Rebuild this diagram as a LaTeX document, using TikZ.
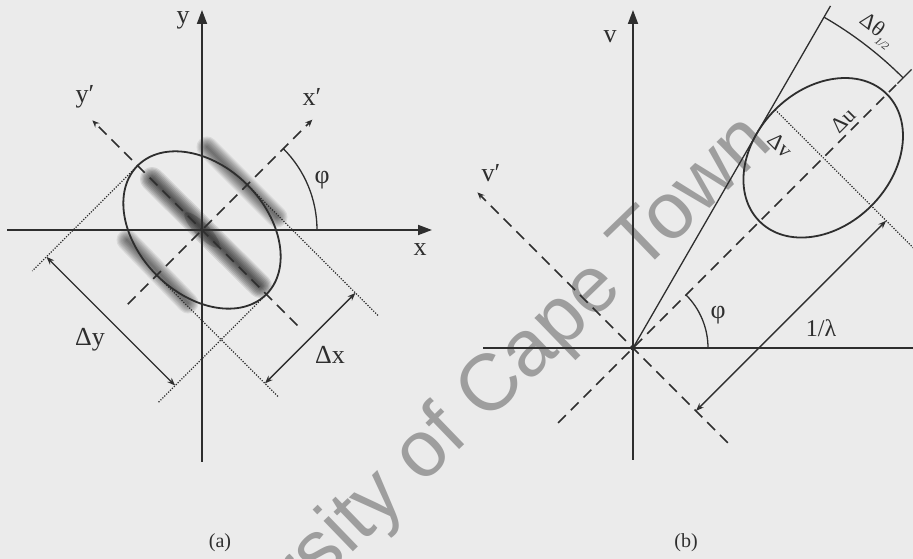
\documentclass[tikz,border=0pt]{standalone}
\usepackage{fontspec}
\setmainfont{Liberation Serif}
\newfontfamily\wmfont{Liberation Sans}
\usetikzlibrary{arrows.meta,calc}
\definecolor{ink}{HTML}{2E2E2E}
\definecolor{paper}{HTML}{EBEBEB}
\definecolor{wmgray}{HTML}{9E9E9E}
% blurred stripe: from #1 to #2, core width #3, layer opacity #4
\newcommand\gstripe[4]{%
  \foreach \k in {1,...,9}{%
    \draw[black,draw opacity=#4,line cap=round,line width={#3*\k/9*1pt}] #1 -- #2;
  }}
\begin{document}
\begin{tikzpicture}[x=1pt,y=1pt,
  ax/.style={line width=1.8pt,draw=ink},
  thinline/.style={line width=1.3pt,draw=ink},
  dsh/.style={line width=1.5pt,draw=ink,dash pattern=on 11pt off 7pt},
  dotln/.style={line width=1.2pt,draw=ink,dash pattern=on 1.2pt off 1.5pt},
  bigtip/.style={-{Triangle[length=14pt,width=10pt]}},
  smalltip/.style={-{Stealth[length=7pt,width=6pt]}},
  dimarrow/.style={thinline,{Stealth[length=8pt,width=6pt]}-{Stealth[length=8pt,width=6pt]}},
  lbl/.style={font=\fontsize{26}{30}\selectfont,text=ink,inner sep=0pt},
  smlbl/.style={font=\fontsize{22}{26}\selectfont,text=ink,inner sep=0pt},
  captxt/.style={font=\fontsize{20}{24}\selectfont,text=ink,inner sep=0pt}]
\useasboundingbox (0,0) rectangle (913,559);
\fill[paper] (0,0) rectangle (913,559);
% watermark
\begin{scope}
\clip (0,0) rectangle (913,559);
\node[font=\wmfont\fontsize{80}{86}\selectfont,text=wmgray,inner sep=0pt,anchor=base east,rotate=44] (wmark) at (775,414) {University of Cape Town};
\end{scope}
% ---------------- panel (a) ----------------
\coordinate (Oa) at (202,329);
\coordinate (xl) at (7,329);
\coordinate (xr) at (432,329);
\coordinate (yb) at (202,97);
\coordinate (yt) at (202,549);
% Gabor stripes
\coordinate (sc1) at (152,380);
\coordinate (sc2) at (260,273);
\coordinate (su1) at (207,412);
\coordinate (su2) at (277,342);
\coordinate (sl1) at (127,319);
\coordinate (sl2) at (188,256);
\gstripe{(sc1)}{(sc2)}{24}{0.10}
\gstripe{(su1)}{(su2)}{21}{0.075}
\gstripe{(sl1)}{(sl2)}{21}{0.075}
\fill[black,fill opacity=0.18,rotate around={-45:(Oa)}] (Oa) ellipse [x radius=24pt, y radius=7pt];
% axes
\draw[ax,bigtip] (xl) -- (xr);
\draw[ax,bigtip] (yb) -- (yt);
\coordinate (xps) at ($(Oa)+(225:105)$);
\coordinate (xpe) at ($(Oa)+(45:156)$);
\coordinate (yps) at ($(Oa)+(-45:135)$);
\coordinate (ype) at ($(Oa)+(135:155)$);
\draw[dsh,smalltip] (xps) -- (xpe);
\draw[dsh,smalltip] (yps) -- (ype);
% ellipse
\draw[ax,rotate around={45:(Oa)}] (Oa) ellipse [x radius=64pt, y radius=91pt];
% dotted tangents
\coordinate (P1) at ($(Oa)+(135:91)$);
\coordinate (P1e) at ($(P1)+(225:149)$);
\coordinate (P2) at ($(Oa)+(-45:91)$);
\coordinate (P2e) at ($(P2)+(225:153)$);
\coordinate (Q1) at ($(Oa)+(45:64)$);
\coordinate (Q1e) at ($(Q1)+(-45:186)$);
\coordinate (Q2) at ($(Oa)+(225:64)$);
\coordinate (Q2e) at ($(Q2)+(-45:172)$);
\draw[dotln] (P1) -- (P1e);
\draw[dotln] (P2) -- (P2e);
\draw[dotln] (Q1) -- (Q1e);
\draw[dotln] (Q2) -- (Q2e);
% dimension arrows
\coordinate (dyA) at ($(P1)+(225:129)$);
\coordinate (dyB) at ($(P2)+(225:129)$);
\coordinate (dxA) at ($(Q1)+(-45:153)$);
\coordinate (dxB) at ($(Q2)+(-45:153)$);
\draw[dimarrow] (dyA) -- (dyB);
\draw[dimarrow] (dxB) -- (dxA);
% phi arc
\draw[thinline] ($(Oa)+(0:115)$) arc[start angle=0,end angle=45,radius=115pt];
% labels
\node[lbl] (lx) at (420,309) {x};
\node[lbl] (ly) at (183,539) {y};
\node[lbl] (lxp) at (312,462) {x′};
\node[lbl] (lyp) at (85,462) {y′};
\node[lbl] (lphia) at (322,379) {φ};
\node[lbl] (ldy) at (90,219) {Δy};
\node[lbl] (ldx) at (330,204) {Δx};
\node[captxt] (capa) at (220,16) {(a)};
% ---------------- panel (b) ----------------
\coordinate (Ob) at (633,211);
\coordinate (ul) at (483,211);
\coordinate (ur) at (915,211);
\coordinate (vb) at (633,99);
\coordinate (vt) at (633,549);
\draw[ax] (ul) -- (ur);
\draw[ax,bigtip] (vb) -- (vt);
\coordinate (vps) at ($(Ob)+(-45:134)$);
\coordinate (vpe) at ($(Ob)+(135:220)$);
\draw[dsh,smalltip] (vps) -- (vpe);
\coordinate (ups) at ($(Ob)+(225:106)$);
\coordinate (upe) at ($(Ob)+(45:372)$);
\draw[dsh] (ups) -- (upe);
\coordinate (tg) at ($(Ob)+(60:395)$);
\draw[thinline] (Ob) -- (tg);
\fill[ink] (Ob) circle (2.6pt);
\coordinate (C) at ($(Ob)+(45:269)$);
\draw[ax,rotate around={45:(C)}] (C) ellipse [x radius=90pt, y radius=68pt];
\coordinate (dvs) at ($(C)+(135:68)$);
\coordinate (dve) at ($(C)+(-45:150)$);
\draw[dotln] (dvs) -- (dve);
\coordinate (lamA) at ($(Ob)+(-45:89)$);
\coordinate (lamB) at ($(C)+(-45:89)$);
\draw[dimarrow] (lamA) -- (lamB);
\draw[thinline] ($(Ob)+(0:75)$) arc[start angle=0,end angle=45,radius=75pt];
\draw[thinline] ($(Ob)+(45:382)$) arc[start angle=45,end angle=60,radius=382pt];
\coordinate (tk1) at ($(Ob)+(45:374)$);
\coordinate (tk2) at ($(Ob)+(45:394)$);
\draw[thinline] (tk1) -- (tk2);
\node[lbl] (lv) at (610,522) {v};
\node[lbl] (lvp) at (491,386) {v′};
\node[lbl] (lphib) at (718,244) {φ};
\node[lbl,font=\fontsize{24}{28}\selectfont] (llam) at (821,231) {1/λ};
\node[smlbl,rotate=45] (ldu) at ($(C)+(45:41)+(135:12)$) {Δu};
\node[smlbl,rotate=-45] (ldv) at ($(C)+(135:39)+(225:22)$) {Δv};
\node[smlbl,rotate=-37.5] (ldt) at ($(Ob)+(52.5:400)$) {Δθ\raisebox{-6pt}{\fontsize{11}{12}\selectfont\itshape 1/2}};
\node[captxt] (capb) at (686,16) {(b)};
\end{tikzpicture}
\end{document}
